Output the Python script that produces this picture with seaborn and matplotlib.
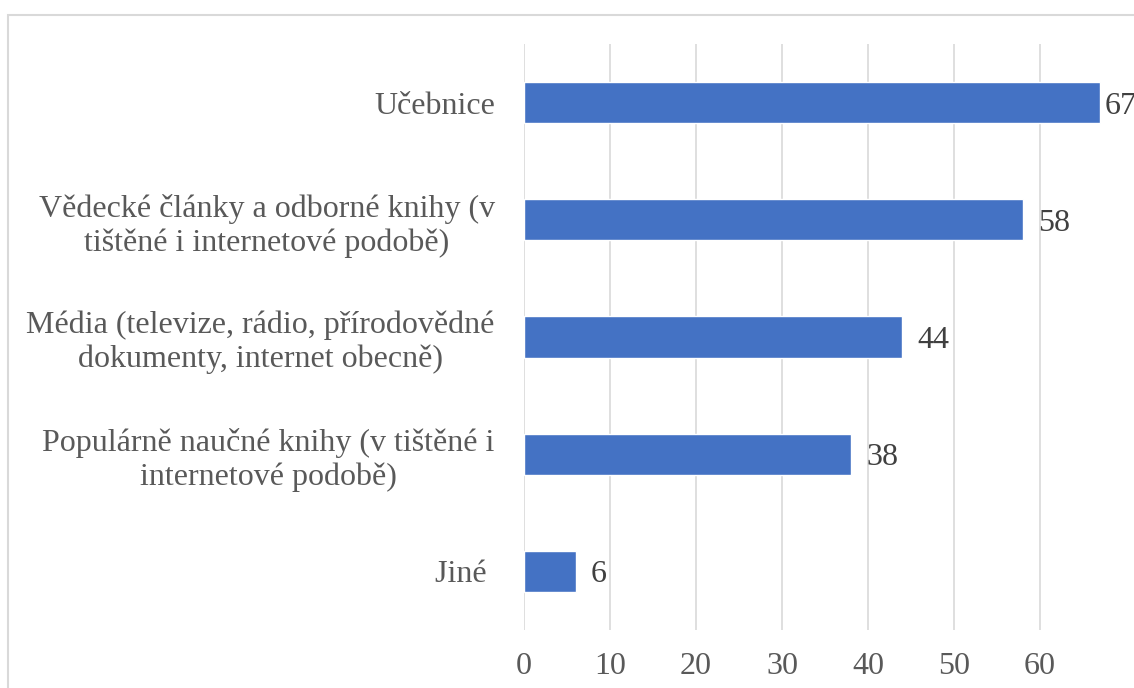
import matplotlib
matplotlib.use("Agg")
import matplotlib.pyplot as plt
import seaborn as sns
import pandas as pd
from matplotlib.patches import Rectangle

# Zdroje informací (počet odpovědí)
categories = [
    "Učebnice",
    "Vědecké články a odborné knihy (v\ntištěné i internetové podobě)",
    "Média (televize, rádio, přírodovědné\ndokumenty, internet obecně)",
    "Populárně naučné knihy (v tištěné i\ninternetové podobě)",
    "Jiné ",
]
values = [67, 58, 44, 38, 6]
xticks = [0, 10, 20, 30, 40, 50, 60]

BAR_COLOR = "#4472C4"
GRID_COLOR = "#d9d9d9"
TICK_COLOR = "#595959"
LABEL_COLOR = "#404040"
FS = 23

df = pd.DataFrame({"zdroj": categories, "pocet": values})

sns.set_style("white")
plt.rcParams["font.family"] = ["Liberation Serif", "DejaVu Serif"]

fig = plt.figure(figsize=(11.34, 6.88), dpi=100)
ax = fig.add_axes([524 / 1134, 1 - 630 / 688, 1 - 524 / 1134, (630 - 44) / 688])

sns.barplot(data=df, x="pocet", y="zdroj", orient="h", color=BAR_COLOR,
            saturation=1, width=0.353, ax=ax, zorder=3)

ax.set_xlim(0, (1134 - 524) / 8.6)
ax.set_ylim(4.5, -0.5)
ax.set_xticks(xticks)
ax.xaxis.grid(True, color=GRID_COLOR, linewidth=1.2, zorder=0)
ax.set_axisbelow(True)
for s in ax.spines.values():
    s.set_visible(False)
ax.set_xlabel("")
ax.set_ylabel("")
ax.tick_params(axis="x", length=0, pad=16, labelsize=FS, labelcolor=TICK_COLOR)
ax.tick_params(axis="y", length=0, pad=21, labelsize=FS, labelcolor=TICK_COLOR)
for lbl in ax.get_yticklabels():
    lbl.set_multialignment("center")

# popisky hodnot (u nejdelšího pruhu blíž, aby se vešel)
for bar, v in zip(ax.patches, values):
    off = 3 if v > 64 else 11
    ax.annotate(str(v), (bar.get_width(), bar.get_y() + bar.get_height() / 2),
                xytext=(off, 0), textcoords="offset points", va="center_baseline", ha="left",
                fontsize=FS, color=LABEL_COLOR)

# rámeček grafu (oříznutý vpravo a dole)
fig.patches.append(Rectangle((8 / 1134, -0.2), 2, 1.2 - 15 / 688, transform=fig.transFigure,
                             fill=False, edgecolor=GRID_COLOR, linewidth=1.5))

fig.savefig("out.png", dpi=100)
